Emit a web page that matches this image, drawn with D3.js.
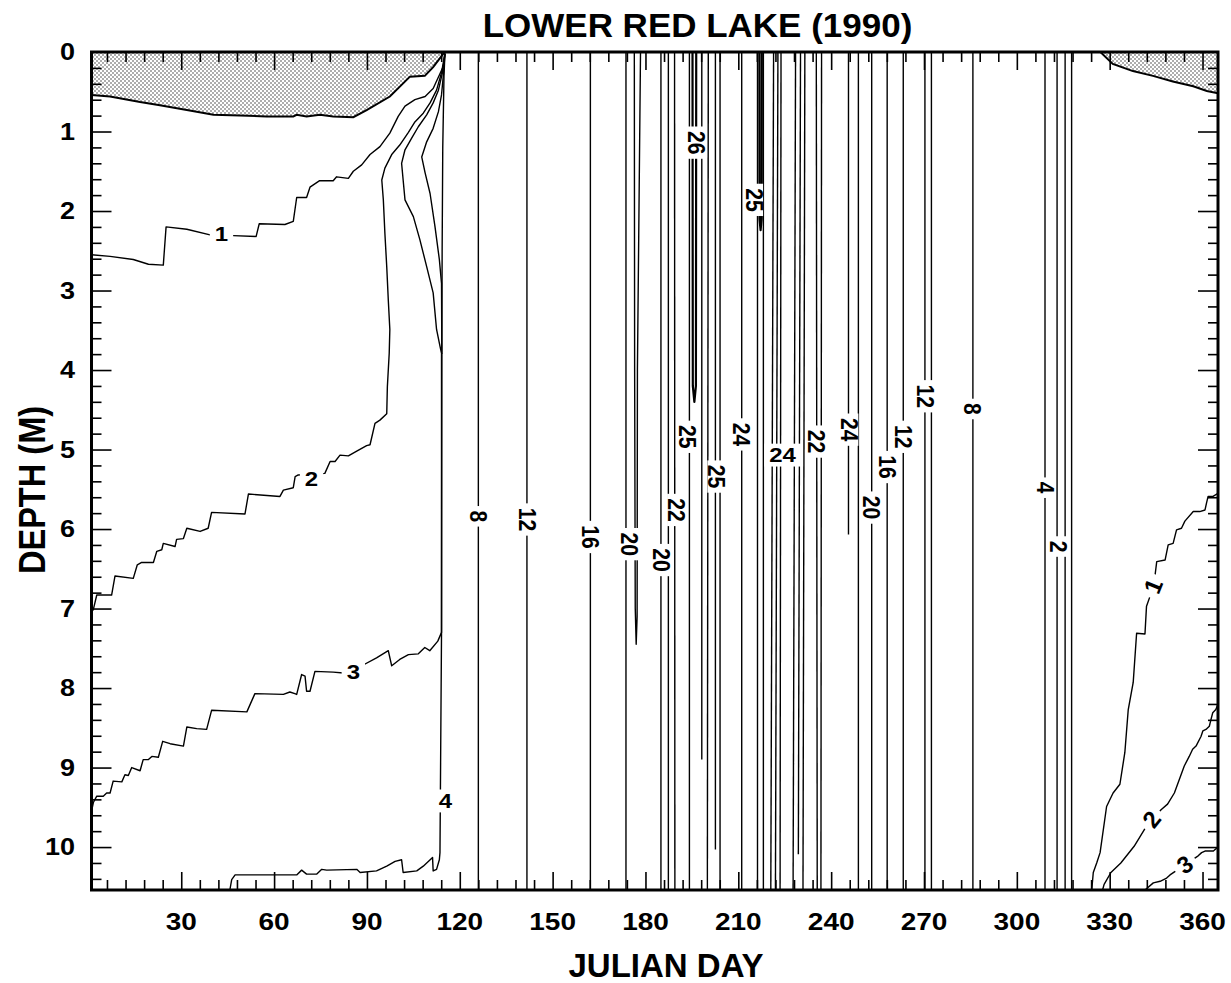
<!DOCTYPE html>
<html>
<head>
<meta charset="utf-8">
<script src="https://cdn.jsdelivr.net/npm/d3@7"></script>
<style>
  html, body { margin: 0; padding: 0; background: #fff; }
  svg text { font-family: "Liberation Sans", Arial, Helvetica, sans-serif; font-weight: bold; fill: #000; }
</style>
</head>
<body>
<svg id="chart" width="1231" height="983"></svg>
<script>
// ---------- data: [julian day, depth in m] ----------
const titleText = "LOWER RED LAKE (1990)";
const xTitle = "JULIAN DAY";
const yTitle = "DEPTH (M)";
const dayTicks = [30, 60, 90, 120, 150, 180, 210, 240, 270, 300, 330, 360];
const depthTicks = [0, 1, 2, 3, 4, 5, 6, 7, 8, 9, 10];

// ice cover (lower edge)
const iceWinter = [[1,0.54],[7,0.56],[16.7,0.63],[23.1,0.67],[31.8,0.73],[40.4,0.79],[49,0.80],[57.6,0.81],[66.2,0.81],[67.3,0.79],[70.5,0.81],[74.8,0.79],[79.1,0.81],[85.6,0.82],[89.9,0.73],[97.4,0.56],[103.9,0.31],[108.7,0.30],[111.4,0.19],[114.7,0.02],[115.2,0]];
const iceAutumn = [[327,0],[331,0.15],[337.5,0.24],[344,0.30],[350.4,0.37],[357,0.43],[361.4,0.49],[365,0.52]];

// under-ice isotherms
const iso1Winter = [[1,2.55],[7,2.57],[14.5,2.61],[19.4,2.67],[24.2,2.68],[25.1,2.20],[31.8,2.23],[39.3,2.30],[46.8,2.31],[54.2,2.32],[55.2,2.16],[63.5,2.17],[66.2,2.13],[67.3,1.83],[70.5,1.83],[71.6,1.70],[74.6,1.62],[79.1,1.62],[80.2,1.57],[84,1.59],[85.6,1.50],[88.3,1.42],[91,1.29],[94.2,1.19],[97.4,1.02],[100.1,0.81],[102.3,0.68],[105.5,0.60],[108.8,0.56],[111.4,0.46],[114.7,0.18],[115.2,0.02]];
const iso2Winter = [[1,7.05],[1.6,7.01],[2.7,6.83],[7.5,6.83],[8.6,6.59],[14.5,6.62],[15.8,6.45],[17.2,6.42],[21.0,6.42],[22.1,6.28],[23.7,6.26],[24.2,6.18],[28.0,6.22],[28.5,6.13],[30.7,6.12],[31.8,5.99],[36.1,6.03],[38.7,5.99],[39.8,5.79],[50.6,5.81],[51.7,5.56],[61.9,5.59],[63.0,5.51],[66.2,5.48],[66.8,5.34],[67.8,5.32],[76.4,5.30],[78.1,5.15],[79.7,5.15],[81.3,5.07],[84.0,5.08],[86.7,5.02],[89.9,4.95],[91.0,4.94],[92.6,4.67],[94.2,4.63],[96.4,4.55],[96.6,4.21],[97.2,3.79],[97.4,3.49],[96.9,3.12],[96.4,2.70],[95.8,2.28],[95.3,1.86],[94.8,1.61],[95.8,1.46],[98.0,1.29],[100.6,1.17],[103.4,1.01],[105.5,0.88],[108.2,0.77],[110.4,0.64],[112.5,0.48],[114.1,0.26],[115.2,0.02]];
const iso3Winter = [[1,9.55],[1.6,9.44],[2.7,9.36],[4.8,9.36],[5.9,9.32],[7.0,9.32],[8.0,9.17],[10.8,9.18],[11.8,9.09],[12.9,9.10],[14.0,9.00],[16.7,9.04],[17.7,8.90],[19.4,8.90],[20.5,8.86],[22.6,8.87],[24.0,8.67],[26.4,8.70],[30.7,8.73],[31.8,8.49],[35.0,8.51],[38.2,8.52],[39.8,8.28],[51.2,8.30],[53.8,8.07],[63.0,8.08],[65.1,8.05],[66.7,8.07],[67.3,8.08],[68.9,7.83],[70.0,7.85],[70.5,8.04],[71.6,8.04],[73.2,7.79],[79.1,7.80],[82.4,7.81],[88.8,7.71],[93.1,7.62],[96.9,7.53],[98.0,7.72],[100.6,7.64],[103.4,7.58],[106.6,7.57],[108.7,7.49],[110.3,7.53],[112.9,7.41],[114.1,7.30],[114.1,3.79],[113.6,3.70],[112.5,3.49],[111.4,3.03],[109.3,2.70],[107.1,2.36],[105.0,2.07],[102.3,1.86],[101.7,1.61],[101.2,1.40],[102.3,1.23],[104.5,1.08],[106.6,0.94],[109.3,0.79],[111.4,0.64],[113.1,0.48],[114.4,0.26],[115.2,0.02]];
const iso4Winter = [[115.2,0.02],[114.9,0.3],[114.5,1.2],[114.3,2.5],[114.2,3.8],[114.1,7.3],[113.6,10.07],[113.4,10.16],[112.5,10.28],[111.4,10.30],[111.2,10.13],[108.2,10.24],[106.1,10.30],[101.7,10.32],[101.2,10.16],[99.1,10.18],[96.4,10.24],[93.1,10.30],[87.8,10.32],[86.7,10.28],[77.0,10.29],[75.4,10.28],[73.8,10.34],[70.5,10.34],[68.9,10.29],[67.3,10.35],[47.4,10.35],[46.3,10.41],[45.7,10.54]];
const iso4Branch = [[115.2,0.02],[114.7,0.29],[114.1,0.54],[113.1,0.75],[111.4,0.96],[109.3,1.13],[107.7,1.32],[108.8,1.52],[110.4,1.78],[112.0,2.20],[113.4,2.61],[114.1,2.91],[114.2,3.8]];

// open-water isotherms: [level, day at surface, day at deepest point, deepest depth]
const summerIsotherms = [
  [8, 126.0, 126.0, 10.54], [12, 141.7, 141.7, 10.54], [16, 162.2, 162.2, 10.54],
  [20, 173.7, 173.7, 10.54], [20, 185.0, 185.0, 10.54], [21, 187.4, 187.4, 10.54],
  [22, 189.4, 189.5, 10.54], [25, 194.2, 194.2, 10.54], [25, 198.2, 198.2, 8.90],
  [24, 200.3, 200.0, 10.54], [25, 202.6, 202.6, 10.03], [24, 204.1, 204.1, 10.54],
  [24, 211.1, 211.1, 10.54], [24, 216.2, 216.2, 10.54], [24, 218.1, 218.1, 10.54],
  [24, 221.4, 220.5, 10.54], [24, 222.8, 222.0, 10.54], [23, 223.8, 223.5, 10.54],
  [23, 228.5, 227.7, 10.54], [23, 230.1, 229.4, 10.09], [22, 231.5, 230.9, 10.54],
  [22, 235.2, 235.5, 10.54], [21, 236.9, 236.7, 10.54], [24, 245.6, 245.6, 6.07],
  [22, 248.8, 248.8, 10.54], [20, 253.1, 253.1, 10.54], [16, 258.1, 258.1, 10.54],
  [12, 263.3, 263.3, 10.54], [12, 270.3, 270.3, 10.54], [12, 272.4, 272.4, 10.54],
  [8, 285.8, 285.8, 10.54], [4, 309.1, 309.1, 10.54], [3, 313.0, 313.0, 10.54],
  [2, 315.6, 315.6, 10.54], [2, 317.7, 317.7, 10.54]
];
const loop21 = [[176.4,0],[176.5,4.0],[176.7,7.0],[177.0,7.45],[177.3,7.1],[177.4,4.0],[178.4,0]];
const loop26 = [[195.2,0],[195.3,4.2],[195.8,4.40],[196.3,4.2],[196.4,0]];
const loop25 = [[216.8,0],[216.85,2.1],[217.2,2.24],[217.55,2.1],[217.6,0]];

// autumn cooling isotherms
const iso1Autumn = [[324.2,10.54],[324.7,10.32],[325.8,10.20],[326.9,10.07],[329.0,9.49],[331.1,9.32],[333.3,9.21],[334.9,8.81],[336.0,8.27],[337.6,7.93],[338.7,7.31],[341.4,7.32],[341.9,6.97],[343.0,6.85],[344.6,6.60],[345.2,6.41],[347.9,6.39],[348.9,6.20],[350.5,6.18],[351.6,6.01],[353.2,5.99],[354.3,5.90],[357.0,5.78],[359.1,5.78],[360.8,5.76],[361.3,5.67],[361.8,5.59],[363.4,5.59],[365,5.55]];
const iso2Autumn = [[327.7,10.54],[328.2,10.47],[330.4,10.32],[333.6,10.20],[337.9,9.99],[341.2,9.78],[346.6,9.53],[348.7,9.46],[350.9,9.32],[352.5,9.15],[354.1,8.98],[355.7,8.86],[356.8,8.77],[357.9,8.73],[359.5,8.61],[360.1,8.54],[361.1,8.52],[362.2,8.48],[362.7,8.40],[363.3,8.31],[364.3,8.27],[365,8.2]];
const iso3Autumn = [[341.4,10.54],[344.1,10.45],[346.3,10.43],[348.4,10.39],[349.5,10.35],[358.6,10.11],[359.7,10.07],[360.8,10.05],[363.5,10.05],[365,10.0]];

// contour labels: [level, day, depth, orientation]
const contourLabels = [
  [1, 43.0, 2.28, "flat"], [2, 72.1, 5.36, "flat"], [3, 85.6, 7.79, "flat"], [4, 115.4, 9.42, "flat"],
  [8, 126.0, 5.84, "down"], [12, 141.7, 5.88, "down"], [16, 162.2, 6.10, "down"],
  [20, 174.7, 6.19, "down"], [20, 185.0, 6.39, "down"], [22, 189.9, 5.76, "down"],
  [25, 193.5, 4.84, "down"], [26, 196.4, 1.14, "down"], [25, 202.9, 5.34, "down"],
  [24, 211.1, 4.81, "down"], [25, 215.1, 1.86, "down"], [24, 224.3, 5.07, "flat"],
  [22, 235.2, 4.90, "down"], [24, 245.9, 4.75, "down"], [20, 253.1, 5.73, "down"],
  [16, 258.1, 5.22, "down"], [12, 263.3, 4.84, "down"], [12, 270.3, 4.33, "down"],
  [8, 285.8, 4.49, "down"], [4, 309.1, 5.48, "down"], [2, 313.5, 6.22, "down"],
  [1, 344.1, 6.72, "slope"], [2, 343.5, 9.65, "slope"], [3, 354.3, 10.22, "slope"]
];

// ---------- drawing ----------
(function () {
const plotLeft = 91.5, plotRight = 1218, plotTop = 52, plotBottom = 890;
const svg = d3.select("#chart");
const x = d3.scaleLinear().domain([1, 365]).range([plotLeft, plotRight]);
const y = d3.scaleLinear().domain([0, 10.54]).range([plotTop, plotBottom]);
const line = d3.line().x(d => x(d[0])).y(d => y(d[1]));
const squash = 0.88;

const defs = svg.append("defs");
const pat = defs.append("pattern").attr("id", "stipple")
  .attr("patternUnits", "userSpaceOnUse").attr("width", 4).attr("height", 4);
pat.append("rect").attr("width", 4).attr("height", 4).attr("fill", "#fff");
pat.append("circle").attr("cx", 1).attr("cy", 1).attr("r", 0.75).attr("fill", "#333");
pat.append("circle").attr("cx", 3).attr("cy", 3).attr("r", 0.75).attr("fill", "#333");
defs.append("clipPath").attr("id", "plotClip").append("rect")
  .attr("x", plotLeft).attr("y", plotTop).attr("width", plotRight - plotLeft).attr("height", plotBottom - plotTop);

const plot = svg.append("g").attr("clip-path", "url(#plotClip)");

// ice
plot.append("path").attr("d", line([[1, 0]].concat(iceWinter)) + "Z")
  .attr("fill", "url(#stipple)").attr("stroke", "none");
plot.append("path").attr("d", line(iceAutumn.concat([[365, 0]])) + "Z")
  .attr("fill", "url(#stipple)").attr("stroke", "none");
plot.append("path").attr("d", line(iceWinter)).attr("fill", "none").attr("stroke", "#000").attr("stroke-width", 2);
plot.append("path").attr("d", line(iceAutumn)).attr("fill", "none").attr("stroke", "#000").attr("stroke-width", 2);

// isotherms
const curves = [iso1Winter, iso2Winter, iso3Winter, iso4Winter, iso4Branch,
  loop21, iso1Autumn, iso2Autumn, iso3Autumn]
  .concat(summerIsotherms.map(r => [[r[1], 0], [r[2], r[3]]]));
plot.selectAll("path.iso").data(curves).join("path")
  .attr("class", "iso")
  .attr("d", d => line(d))
  .attr("fill", "none").attr("stroke", "#000").attr("stroke-width", 1.4)
  .attr("stroke-linejoin", "round");
// the tightly closed warm loops read as heavy strokes
plot.selectAll("path.loop").data([loop26, loop25]).join("path")
  .attr("class", "loop")
  .attr("d", d => line(d))
  .attr("fill", "none").attr("stroke", "#000").attr("stroke-width", 2.2)
  .attr("stroke-linejoin", "round");

// contour labels
const autumnByLevel = { 1: iso1Autumn, 2: iso2Autumn, 3: iso3Autumn };
function slopeAngle(pts, day, depth) {
  const px = pts.map(p => [x(p[0]), y(p[1])]);
  const cx = x(day), cy = y(depth);
  let best = 0, bd = Infinity;
  px.forEach((p, i) => { const dd = (p[0]-cx)**2 + (p[1]-cy)**2; if (dd < bd) { bd = dd; best = i; } });
  const a = px[Math.max(0, best - 2)], b = px[Math.min(px.length - 1, best + 2)];
  return Math.atan2(b[1] - a[1], b[0] - a[0]) * 180 / Math.PI;
}
const labG = svg.append("g");
contourLabels.forEach(([lvl, day, depth, orient]) => {
  let tf = `translate(${x(day)},${y(depth)})`;
  if (orient === "down") tf += ` scale(1,${squash}) rotate(90)`;
  else if (orient === "flat") tf += ` scale(1,${squash})`;
  else tf += ` rotate(${slopeAngle(autumnByLevel[lvl], day, depth)})`;
  const g = labG.append("g").attr("transform", tf);
  const r = g.append("rect").attr("fill", "#fff");
  const t = g.append("text").attr("text-anchor", "middle").attr("dy", "0.35em")
    .attr("font-size", 24).text(String(lvl));
  const len = t.node().getComputedTextLength();
  const w = len + 10, h = orient === "flat" ? 26 : 18;
  r.attr("x", -w / 2).attr("y", -h / 2).attr("width", w).attr("height", h);
});

// axes: inward ticks on all four sides
const minorX = d3.range(6, 361, 6).filter(d => d % 30 !== 0);
const minorY = d3.range(1, 53).filter(i => i % 5 !== 0).map(i => +(i * 0.2).toFixed(1));
const majorY = depthTicks.filter(d => d > 0);
function tickAxis(axisFn, scale, values, size, tx, ty) {
  const g = svg.append("g").attr("transform", `translate(${tx},${ty})`)
    .call(axisFn(scale).tickValues(values).tickSize(-size).tickFormat(""));
  g.select(".domain").remove();
  g.selectAll(".tick line").attr("stroke", "#000").attr("stroke-width", 1.6);
}
[[minorX, 10], [dayTicks, 18]].forEach(([v, s]) => {
  tickAxis(d3.axisBottom, x, v, s, 0, plotBottom);
  tickAxis(d3.axisTop, x, v, s, 0, plotTop);
});
[[minorY, 10], [majorY, 20]].forEach(([v, s]) => {
  tickAxis(d3.axisLeft, y, v, s, plotLeft, 0);
  tickAxis(d3.axisRight, y, v, s, plotRight, 0);
});

// frame
svg.append("rect").attr("x", plotLeft).attr("y", plotTop)
  .attr("width", plotRight - plotLeft).attr("height", plotBottom - plotTop)
  .attr("fill", "none").attr("stroke", "#000").attr("stroke-width", 3);

// tick labels
svg.append("g").selectAll("text").data(dayTicks).join("text")
  .attr("transform", d => `translate(${x(d)},930) scale(1,${squash})`)
  .attr("text-anchor", "middle").attr("font-size", 28).text(d => d);
svg.append("g").selectAll("text").data(depthTicks).join("text")
  .attr("transform", d => `translate(75,${y(d)}) scale(1,${squash})`)
  .attr("text-anchor", "end").attr("dy", "0.35em").attr("font-size", 27).text(d => d);

// titles
svg.append("text").attr("transform", "translate(697.5,37.3) scale(1,0.95)")
  .attr("text-anchor", "middle").attr("font-size", 35).text(titleText);
svg.append("text").attr("transform", "translate(666,977)")
  .attr("text-anchor", "middle").attr("font-size", 33).text(xTitle);
svg.append("text").attr("transform", `translate(32.5,490) scale(1,${squash}) rotate(-90)`)
  .attr("text-anchor", "middle").attr("dy", "0.35em").attr("font-size", 37).text(yTitle);
})();
</script>
</body>
</html>
